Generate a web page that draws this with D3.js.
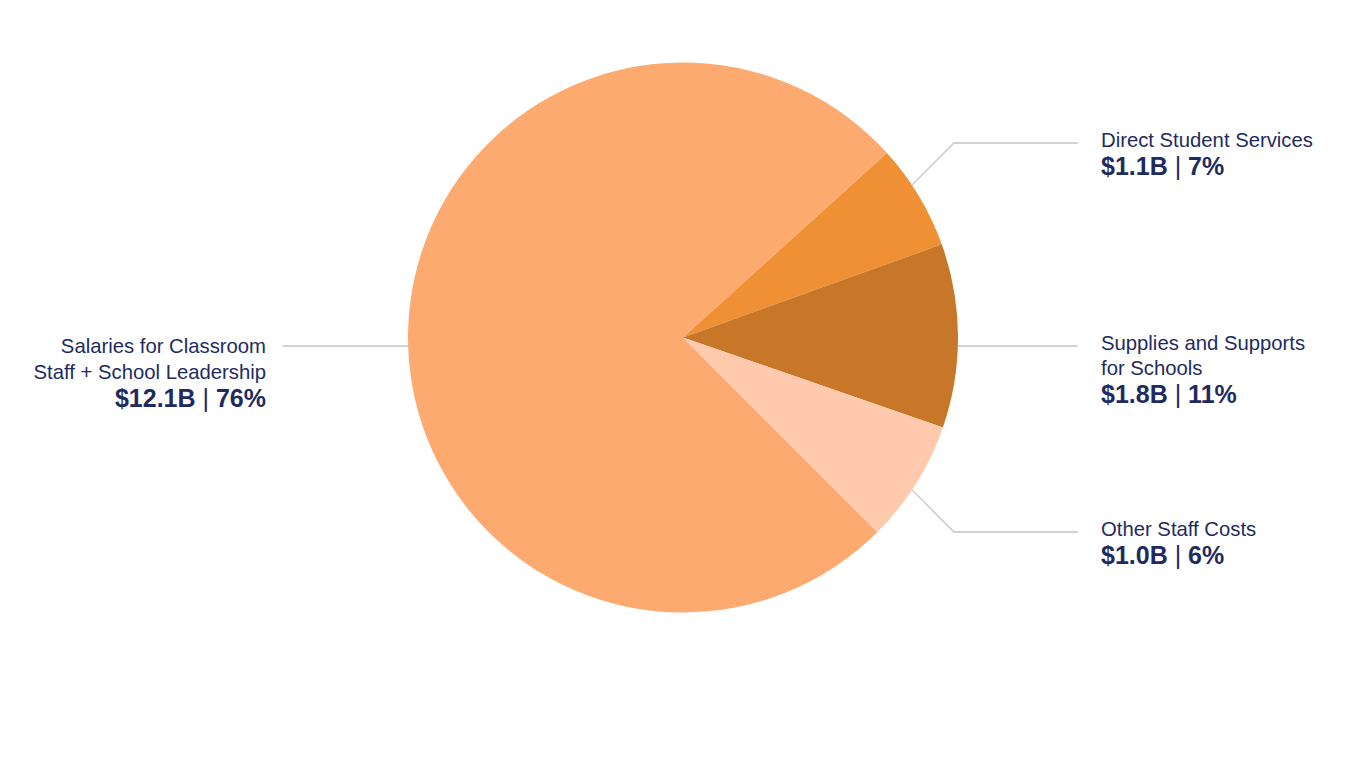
<!DOCTYPE html>
<html>
<head>
<meta charset="utf-8">
<script src="https://cdn.jsdelivr.net/npm/d3@7/dist/d3.min.js"></script>
<style>
  html, body { margin: 0; padding: 0; background: #fff; }
  svg { display: block; }
  text { font-family: "Liberation Sans", Arial, Helvetica, sans-serif; fill: #1f2b5e; }
</style>
</head>
<body>
<svg id="chart" width="1366" height="768"></svg>
<script>
/* ---------- data ---------- */
const categories = ['Salaries for Classroom|Staff + School Leadership', 'Direct Student Services', 'Supplies and Supports|for Schools', 'Other Staff Costs'];
const amounts = ['$12.1B', '$1.1B', '$1.8B', '$1.0B'];
const percents = ['76%', '7%', '11%', '6%'];
// slice shares as drawn in the picture (percent of the pie)
const shares = [75.8, 6.2, 10.8, 7.2];
const colors = ['#fcaa6f', '#ee9033', '#c77727', '#fec9ad'];

/* ---------- layout ---------- */
const W = 1366, H = 768;
const cx = 683, cy = 337.5, R = 275;
const side = ['left', 'right', 'right', 'right'];
const lineY = [346, 143, 346, 532];       // leader line y for each label
const elbowX = 954, rightEnd = 1078, leftEnd = 283;
const lineH = 25.5, boldStep = 28;

const svg = d3.select('#chart');
const g = svg.append('g').attr('transform', `translate(${cx},${cy})`);

const data = categories.map((c, i) => ({ c, amt: amounts[i], pct: percents[i], v: shares[i], i }));

const pie = d3.pie().value(d => d.v).sort(null)
  .startAngle(135 * Math.PI / 180)
  .endAngle(495 * Math.PI / 180);
const arc = d3.arc().innerRadius(0).outerRadius(R);

g.selectAll('path.slice').data(pie(data)).join('path')
  .attr('class', 'slice')
  .attr('d', arc)
  .attr('fill', d => colors[d.data.i]);

/* ---------- leader lines ---------- */
function leader(d) {
  const i = d.data.i;
  const ly = lineY[i] - cy;
  if (side[i] === 'left') {
    const x0 = -Math.sqrt(R * R - ly * ly);
    return [[leftEnd - cx, ly], [x0, ly]];
  }
  const ex = elbowX - cx;
  const mid = (d.startAngle + d.endAngle) / 2;
  const my = -Math.cos(mid) * R;
  if (Math.abs(my - ly) < 20) {
    const x0 = Math.sqrt(R * R - ly * ly);
    return [[x0, ly], [rightEnd - cx, ly]];
  }
  // 45° segment from the rim to the elbow: points (ex - t, ly + s*t)
  const s = ly < my ? 1 : -1;
  const a = 2, b = -2 * ex + 2 * s * ly, c = ex * ex + ly * ly - R * R;
  const t = (-b - Math.sqrt(b * b - 4 * a * c)) / (2 * a);
  return [[ex - t, ly + s * t], [ex, ly], [rightEnd - cx, ly]];
}

g.selectAll('path.leader').data(pie(data)).join('path')
  .attr('class', 'leader')
  .attr('d', d => d3.line()(leader(d)))
  .attr('fill', 'none')
  .attr('stroke', '#c4c4c4')
  .attr('stroke-width', 1.3);

/* ---------- labels ---------- */
const labels = svg.selectAll('g.label').data(data).join('g').attr('class', 'label');
labels.each(function (d) {
  const el = d3.select(this);
  const left = side[d.i] === 'left';
  const x = left ? 266 : 1101;
  const lines = d.c.split('|');
  const y0 = lineY[d.i] + (left ? 7 : 3.5);
  const anchor = left ? 'end' : 'start';
  lines.forEach((ln, k) => {
    el.append('text')
      .attr('x', x).attr('y', y0 + k * lineH)
      .attr('text-anchor', anchor)
      .attr('font-size', 20.3)
      .text(ln);
  });
  const t = el.append('text')
    .attr('x', x).attr('y', y0 + (lines.length - 1) * lineH + boldStep)
    .attr('text-anchor', anchor)
    .attr('font-size', 25)
    .attr('font-weight', 'bold');
  t.append('tspan').text(d.amt + ' ');
  t.append('tspan').attr('font-weight', 'normal').text('|');
  t.append('tspan').text(' ' + d.pct);
});
</script>
</body>
</html>
